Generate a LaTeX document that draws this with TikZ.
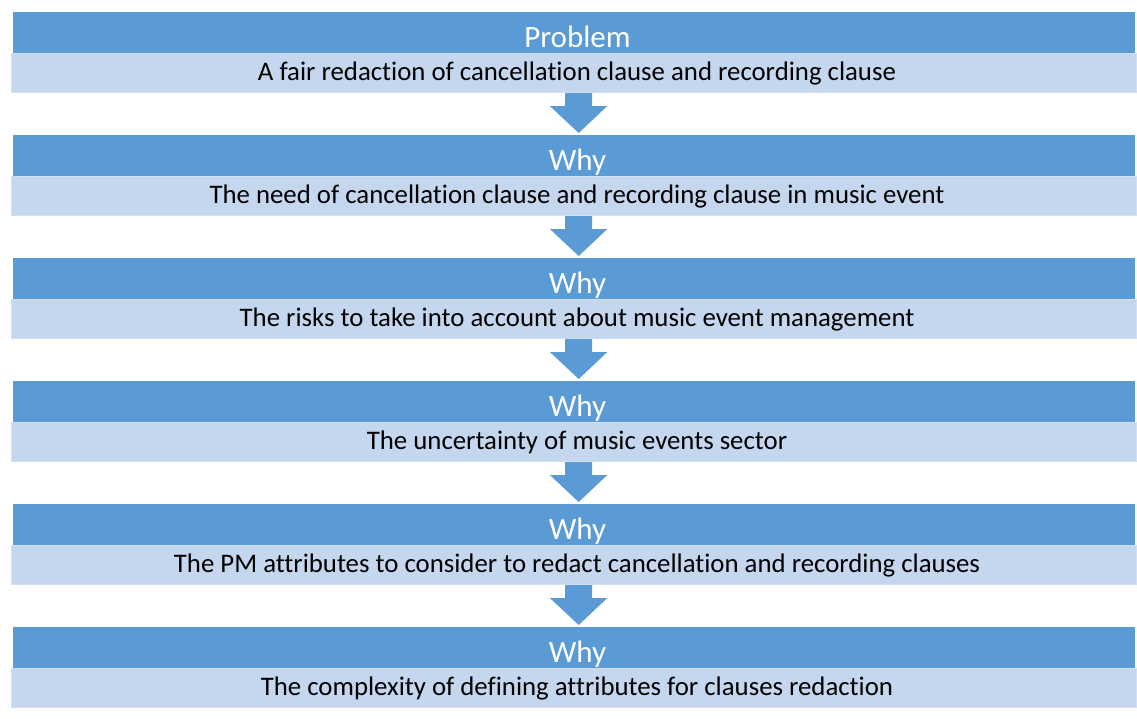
\documentclass[tikz,border=0pt]{standalone}
\usepackage{fontspec}
\setmainfont[Ligatures={NoCommon}]{Carlito}
\usetikzlibrary{calc}
\definecolor{darkblue}{HTML}{5B9BD5}
\definecolor{lightblue}{HTML}{C5D7EE}
\definecolor{lightedge}{HTML}{D2DFF1}
\tikzset{
  hdr/.style={fill=darkblue, draw=none, minimum width=1122pt, minimum height=41pt, inner sep=0pt, anchor=north west},
  bdy/.style={fill=lightblue, draw=lightedge, line width=1.2pt, minimum width=1125pt, minimum height=39pt, inner sep=0pt, anchor=north west},
  hdrtxt/.style={text=white, font=\fontsize{31}{33}\selectfont, anchor=base, inner sep=0pt},
  bdytxt/.style={text=black, font=\fontsize{26.8}{28}\selectfont, anchor=base, inner sep=0pt},
  blockarrow/.style={fill=darkblue, draw=none}
}
\begin{document}
\begin{tikzpicture}[x=1pt,y=-1pt]
\useasboundingbox (0,0) rectangle (1137,718);
\foreach \i/\h/\t in {1/Problem/A fair redaction of cancellation clause and recording clause,
  2/Why/The need of cancellation clause and recording clause in music event,
  3/Why/The risks to take into account about music event management,
  4/Why/The uncertainty of music events sector,
  5/Why/The PM attributes to consider to redact cancellation and recording clauses,
  6/Why/The complexity of defining attributes for clauses redaction}{
  \pgfmathsetmacro{\top}{12+123*(\i-1)}
  \node[hdr] (h\i) at (13,\top) {};
  \node[bdy] (b\i) at (11,\top+41) {};
  \node[hdrtxt] (ht\i) at (577.5,\top+35.5) {\h};
  \node[bdytxt] (bt\i) at (577,\top+68) {\t};
}
\foreach \i [evaluate=\i as \j using int(\i+1)] in {1,...,5}{
  \fill[blockarrow] ($(b\i.south)+(4.5,0)$) coordinate (s\i)
    -- ++(13.5,0) -- ++(0,13) -- ++(15,0) -- ($(h\j.north)+(4.5,-2)$) coordinate (tip\i)
    -- ($(s\i)+(-28.5,13)$) -- ++(15,0) -- ++(0,-13) -- cycle;
}
\end{tikzpicture}
\end{document}
